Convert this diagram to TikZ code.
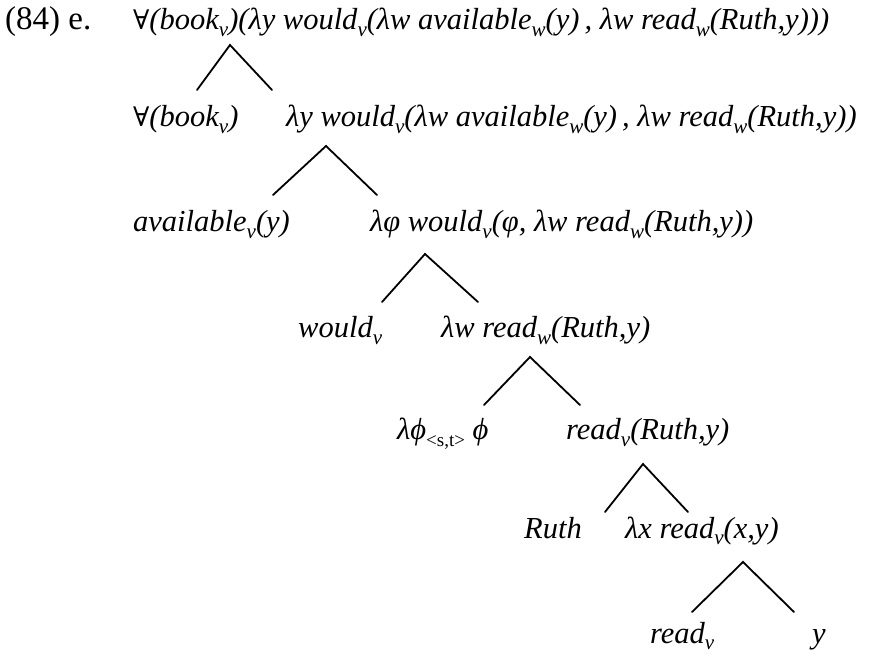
\documentclass[tikz,border=0pt]{standalone}
\usepackage{fontspec}
\setmainfont{Liberation Serif}
\newfontfamily\symf{DejaVu Serif}
\newcommand\subs[1]{\raisebox{-0.22em}{\fontsize{21}{21}\selectfont\itshape #1}}
\newcommand\subu[1]{\raisebox{-0.22em}{\fontsize{19}{19}\selectfont\upshape #1}}
\newcommand\fa{{\symf\upshape\fontsize{27}{30}\selectfont ∀}}
\begin{document}
\begin{tikzpicture}[x=1pt,y=-1pt,
  lab/.style={inner sep=0pt, anchor=base west, font=\fontsize{30.5}{36}\selectfont\itshape},
  branch/.style={line width=1.8pt, line cap=round}]
\useasboundingbox (0,0) rectangle (879,660);
\node[lab,font=\fontsize{33}{36}\selectfont] (ex) at (5,30) {(84) e.};
\node[lab] (r) at (133,30) {\fa(book\subs{v})(λy would\subs{v}(λw available\subs{w}(y)\,, λw read\subs{w}(Ruth,y)))};
\node[lab] (a) at (133,127) {\fa(book\subs{v})};
\node[lab] (b) at (286,127) {λy would\subs{v}(λw available\subs{w}(y)\,, λw read\subs{w}(Ruth,y))};
\node[lab] (c) at (133,232) {available\subs{v}(y)};
\node[lab] (d) at (370,232) {λφ would\subs{v}(φ, λw read\subs{w}(Ruth,y))};
\node[lab] (e) at (298,338) {would\subs{v}};
\node[lab] (f) at (441,338) {λw read\subs{w}(Ruth,y)};
\node[lab] (g) at (397,440) {λϕ\subu{<s,t>} ϕ};
\node[lab] (h) at (566,440) {read\subs{v}(Ruth,y)};
\node[lab] (i) at (524,538) {Ruth};
\node[lab] (j) at (625,538) {λx read\subs{v}(x,y)};
\node[lab] (k) at (650,643) {read\subs{v}};
\node[lab] (l) at (812,643) {y};
\draw[branch] ([shift={(64,-37)}]a.base west) -- ([shift={(97,15)}]r.base west) -- ([shift={(-14,-37)}]b.base west);
\draw[branch] ([shift={(140,-37)}]c.base west) -- ([shift={(40,19)}]b.base west) -- ([shift={(7,-37)}]d.base west);
\draw[branch] ([shift={(84,-36)}]e.base west) -- ([shift={(55,22)}]d.base west) -- ([shift={(37,-36)}]f.base west);
\draw[branch] ([shift={(87,-35)}]g.base west) -- ([shift={(89,19)}]f.base west) -- ([shift={(14,-35)}]h.base west);
\draw[branch] ([shift={(81,-26)}]i.base west) -- ([shift={(77,24)}]h.base west) -- ([shift={(63,-26)}]j.base west);
\draw[branch] ([shift={(42,-31)}]k.base west) -- ([shift={(118,24)}]j.base west) -- ([shift={(-18,-31)}]l.base west);
\end{tikzpicture}
\end{document}
